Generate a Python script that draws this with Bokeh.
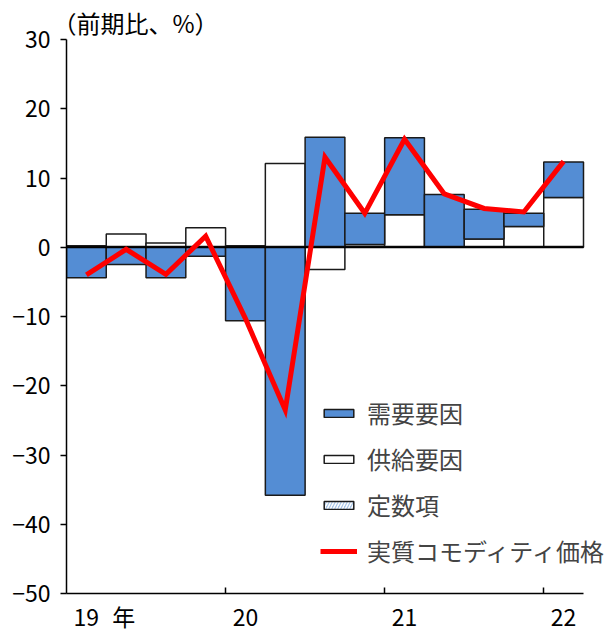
from bokeh.plotting import figure
from bokeh.models import (ColumnDataSource, FixedTicker, Legend, LegendItem,
                          Range1d)
from bokeh.embed import file_html
from bokeh.resources import INLINE

# Quarterly decomposition of real commodity prices (q/q, %), 2019Q1-2022Q1
quarters = ["19Q1", "19Q2", "19Q3", "19Q4", "20Q1", "20Q2", "20Q3", "20Q4",
            "21Q1", "21Q2", "21Q3", "21Q4", "22Q1"]
demand = [-4.4, -2.5, -4.4, -1.3, -10.6, -35.8, 15.8, 4.5, 11.1, 7.5, 4.3, 1.9, 5.1]
supply = [0.1, 1.8, 0.5, 2.7, 0.1, 12.0, -3.2, 0.3, 4.6, 0.0, 1.1, 2.9, 7.1]
constant = [0.1, 0.1, 0.1, 0.1, 0.1, 0.1, 0.1, 0.1, 0.1, 0.1, 0.1, 0.1, 0.1]
real_price = [-4.0, -0.3, -3.9, 1.6, -10.3, -23.5, 13.0, 4.9, 15.6, 7.7, 5.6, 5.1, 12.4]

# x-axis labels: year under each first quarter, plus the unit after "19"
x_labels = ["19", "年", "20", "21", "22"]
x_label_pos = [0, 0.94, 4, 8, 12]
year_bounds = [3.5, 7.5, 11.5]
y_ticks = [-50, -40, -30, -20, -10, 0, 10, 20, 30]

FONT = "Noto Sans CJK JP"
BLUE = "#548dd4"

n = len(quarters)
xs = list(range(n))

# stack each quarter: positives upward, negatives downward
series = {"constant": constant, "supply": supply, "demand": demand}
stacks = {k: {"x": xs, "top": [], "bottom": []} for k in series}
for i in xs:
    pos, neg = 0.0, 0.0
    for k in ["constant", "supply", "demand"]:
        v = series[k][i]
        if v >= 0:
            stacks[k]["bottom"].append(pos)
            stacks[k]["top"].append(pos + v)
            pos += v
        else:
            stacks[k]["top"].append(neg)
            stacks[k]["bottom"].append(neg + v)
            neg += v

# the frame runs to the right edge so the legend text has room;
# the x axis itself stops after the last quarter
bar_px = (583 - 66) / n
x_end = n - 0.5 + 28 / bar_px

p = figure(width=611, height=635, output_backend="svg", toolbar_location=None,
           x_range=Range1d(-0.5, x_end), y_range=Range1d(-50, 30),
           min_border_left=66, min_border_right=0, min_border_top=39,
           min_border_bottom=41)
p.outline_line_color = None
p.xgrid.visible = False
p.ygrid.visible = False
p.background_fill_color = "white"

outline = dict(line_color="#1a1a1a", line_width=1.5)
r_const = p.vbar(x="x", width=1.0, top="top", bottom="bottom",
                 source=ColumnDataSource(stacks["constant"]),
                 fill_color="#a9c6e8", hatch_pattern="/", hatch_color="white",
                 hatch_scale=6, hatch_weight=1.5, **outline)
r_supply = p.vbar(x="x", width=1.0, top="top", bottom="bottom",
                  source=ColumnDataSource(stacks["supply"]),
                  fill_color="white", **outline)
r_demand = p.vbar(x="x", width=1.0, top="top", bottom="bottom",
                  source=ColumnDataSource(stacks["demand"]),
                  fill_color=BLUE, **outline)

# zero line across the bars
p.segment(x0=[-0.5], y0=[0], x1=[n - 0.5], y1=[0], line_color="black",
          line_width=2)

r_line = p.line(xs, real_price, line_color="#ff0000", line_width=5,
                line_join="miter")

# title (unit)
p.title.text = "（前期比、%）"
p.title.text_font = FONT
p.title.text_font_size = "24px"
p.title.text_font_style = "normal"
p.title.text_color = "black"
p.title.align = "left"
p.title.offset = -14
p.title.standoff = 0

# axes
p.yaxis.ticker = FixedTicker(ticks=y_ticks)
p.yaxis.major_label_overrides = {t: (str(t) if t >= 0 else "\u2212" + str(-t)) for t in y_ticks}
p.yaxis.major_label_text_font = FONT
p.yaxis.major_label_text_font_size = "23px"
p.yaxis.major_label_text_color = "black"
p.yaxis.major_tick_out = 6
p.yaxis.major_tick_in = 0
p.yaxis.minor_tick_line_color = None
p.yaxis.major_label_standoff = 10
p.yaxis.axis_line_width = 1.5
p.yaxis.axis_line_color = "black"
p.yaxis.major_tick_line_color = "black"
p.yaxis.major_tick_line_width = 1.5

p.xaxis.ticker = FixedTicker(ticks=x_label_pos, minor_ticks=year_bounds)
p.xaxis.major_label_overrides = dict(zip(x_label_pos, x_labels))
p.xaxis.major_label_text_font = FONT
p.xaxis.major_label_text_font_size = "23px"
p.xaxis.major_label_text_color = "black"
p.xaxis.major_label_standoff = -1
p.xaxis.major_tick_line_color = None
p.xaxis.minor_tick_in = 6
p.xaxis.minor_tick_out = 0
p.xaxis.minor_tick_line_color = "black"
p.xaxis.minor_tick_line_width = 1.5
p.xaxis.axis_line_width = 1.5
p.xaxis.axis_line_color = "black"
p.xaxis.bounds = (-0.5, n - 0.5)

legend = Legend(items=[
    LegendItem(label="需要要因", renderers=[r_demand]),
    LegendItem(label="供給要因", renderers=[r_supply]),
    LegendItem(label="定数項", renderers=[r_const]),
    LegendItem(label="実質コモディティ価格", renderers=[r_line]),
], location=(254, 25), orientation="vertical", glyph_width=37, glyph_height=10,
    label_text_font=FONT, label_text_font_size="24px", label_standoff=10,
    label_height=22, spacing=11, padding=0, margin=0, border_line_color=None,
    background_fill_alpha=0)
p.add_layout(legend)

open("out.html", "w").write(file_html(p, INLINE))
